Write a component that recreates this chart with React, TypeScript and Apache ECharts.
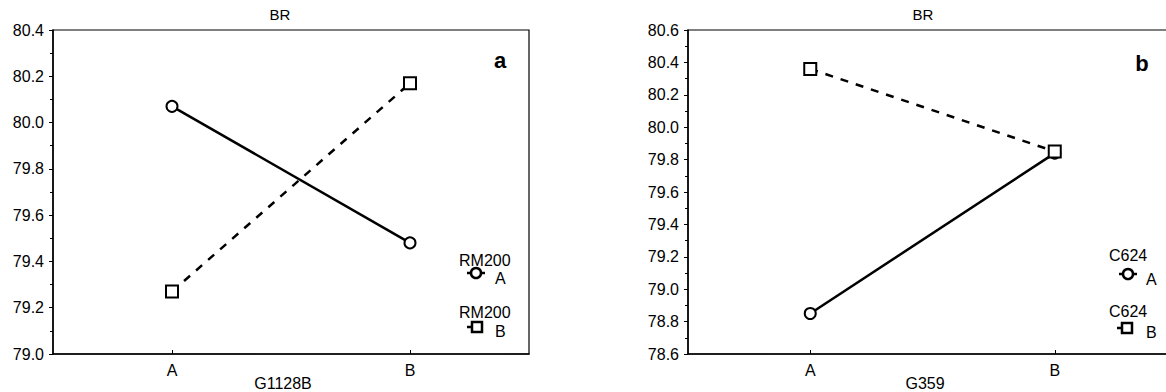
import React, { useEffect, useRef } from "react";
import * as echarts from "echarts";

const categories = ["A", "B"];
const leftSeriesA = [80.07, 79.48];
const leftSeriesB = [79.27, 80.17];
const rightSeriesA = [78.85, 79.84];
const rightSeriesB = [80.36, 79.85];
const leftYTicks = { min: 79.0, max: 80.4, interval: 0.2 };
const rightYTicks = { min: 78.6, max: 80.6, interval: 0.2 };
const titles = ["BR", "BR"];
const xNames = ["G1128B", "G359"];
const panelLetters = ["a", "b"];
const legendGroups = ["RM200", "C624"];
const legendLevels = ["A", "B"];

const FONT = "'Liberation Sans', Arial, sans-serif";

export default function App() {
  const ref = useRef<HTMLDivElement>(null);
  useEffect(() => {
    if (!ref.current) return;
    const chart = echarts.init(ref.current, undefined, { renderer: "svg" });
    const yAxisCommon = (r: any, gi: number) => ({
      type: "value",
      gridIndex: gi,
      min: r.min,
      max: r.max,
      interval: r.interval,
      axisLine: { show: true, lineStyle: { color: "#000", width: 1.5 } },
      axisTick: { show: true, length: 4, lineStyle: { color: "#000" } },
      minorTick: { show: true, splitNumber: 2, length: 3, lineStyle: { color: "#000" } },
      splitLine: { show: false },
      axisLabel: {
        color: "#000",
        fontSize: 16,
        fontFamily: FONT,
        margin: 9,
        formatter: (v: number) => v.toFixed(1),
      },
    });
    const xAxisCommon = (gi: number) => ({
      type: "category",
      gridIndex: gi,
      data: categories,
      boundaryGap: true,
      axisLine: { show: true, lineStyle: { color: "#000", width: 1.5 } },
      axisTick: { show: true, inside: true, alignWithLabel: true, length: 4, lineStyle: { color: "#000" } },
      axisLabel: { color: "#000", fontSize: 16, fontFamily: FONT, margin: 8 },
      splitLine: { show: false },
    });
    const lineSeries = (data: number[], gi: number, symbol: string, dashed: boolean) => ({
      type: "line",
      xAxisIndex: gi,
      yAxisIndex: gi,
      data,
      symbol,
      symbolSize: symbol === "emptyCircle" ? 11 : 12,
      showSymbol: true,
      itemStyle: { color: "#000", borderColor: "#000", borderWidth: 2.5 },
      lineStyle: { color: "#000", width: 2.5, type: dashed ? [8, 8] : "solid" },
      z: 3,
    });
    const txt = (text: string, x: number, y: number, size = 16, extra: any = {}) => ({
      type: "text",
      x,
      y,
      style: { text, fill: "#000", fontSize: size, fontFamily: FONT, lineHeight: size, ...extra },
    });
    const legendItems = (
      group: string,
      titleX: number,
      t1: number,
      t2: number,
      cx: number,
      cy: number,
      sx: number,
      sy: number,
      labX: number
    ) => [
      txt(group, titleX, t1),
      { type: "line", shape: { x1: cx - 9, y1: cy, x2: cx + 9, y2: cy }, style: { stroke: "#000", lineWidth: 2.5 } },
      { type: "circle", shape: { cx, cy, r: 5 }, style: { fill: "#fff", stroke: "#000", lineWidth: 2.5 } },
      txt(legendLevels[0], labX, cy - 3),
      txt(group, titleX, t2),
      { type: "line", shape: { x1: sx - 5, y1: sy + 5, x2: sx, y2: sy + 5 }, style: { stroke: "#000", lineWidth: 2.5 } },
      { type: "rect", shape: { x: sx, y: sy, width: 10, height: 10 }, style: { fill: "#fff", stroke: "#000", lineWidth: 2.5 } },
      txt(legendLevels[1], labX, sy + 1),
    ];
    chart.setOption({
      animation: false,
      backgroundColor: "#fff",
      grid: [
        { left: 53, top: 30, width: 476, height: 324, show: true, borderColor: "#000", borderWidth: 1.2, backgroundColor: "transparent", outerBoundsMode: "none", containLabel: false },
        { left: 688, top: 30, width: 489, height: 324, show: true, borderColor: "#000", borderWidth: 1.2, backgroundColor: "transparent", outerBoundsMode: "none", containLabel: false },
      ],
      xAxis: [xAxisCommon(0), xAxisCommon(1)],
      yAxis: [yAxisCommon(leftYTicks, 0), yAxisCommon(rightYTicks, 1)],
      series: [
        lineSeries(leftSeriesA, 0, "emptyCircle", false),
        lineSeries(leftSeriesB, 0, "emptyRect", true),
        lineSeries(rightSeriesA, 1, "emptyCircle", false),
        lineSeries(rightSeriesB, 1, "emptyRect", true),
      ],
      graphic: [
        txt(titles[0], 280, 7, 15, { align: "center" }),
        txt(titles[1], 923, 7, 15, { align: "center" }),
        txt(xNames[0], 283, 375, 16, { align: "center" }),
        txt(xNames[1], 925, 375, 16, { align: "center" }),
        txt(panelLetters[0], 500, 60, 22, { align: "center", verticalAlign: "middle", fontWeight: "bold" }),
        txt(panelLetters[1], 1142, 63, 22, { align: "center", verticalAlign: "middle", fontWeight: "bold" }),
        ...legendItems(legendGroups[0], 459, 252, 304, 476, 273, 472, 322, 495),
        ...legendItems(legendGroups[1], 1109, 247, 303, 1128, 274, 1122, 323, 1146),
      ],
    });
    return () => chart.dispose();
  }, []);
  return (
    <div
      ref={ref}
      style={{ position: "fixed", left: 0, top: 0, width: 1166, height: 392, background: "#fff" }}
    />
  );
}
